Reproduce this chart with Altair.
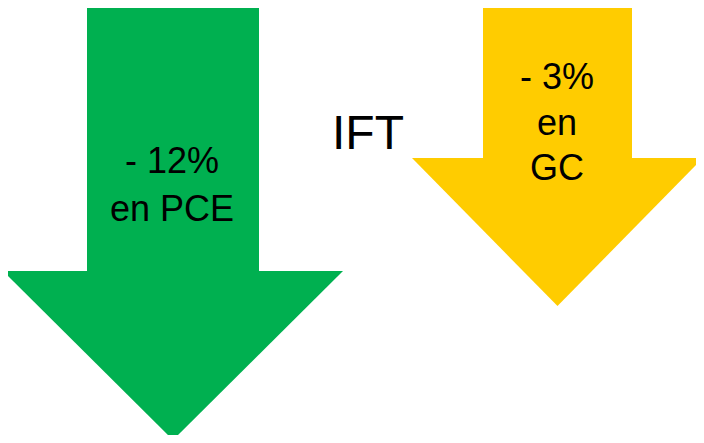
import altair as alt
import pandas as pd

# Arrows (reference pixel units)
arrow_names = ["PCE", "GC"]
arrow_colors = ["#00B050", "#FFCC00"]
shaft_left = [87, 483]
shaft_right = [259, 632]
shaft_top = [2, 2]
shaft_bottom = [271, 158]
head_left = [3, 412]
head_right = [343, 703]
tip_y = [440, 306]

# Text labels
label_text = ["- 12%", "en PCE", "IFT", "- 3%", "en", "GC"]
label_x = [172, 172, 368, 557, 557, 557]
label_y = [173, 221, 149, 89, 135, 180]
label_size = [36, 36, 48, 36, 36, 36]

shafts = pd.DataFrame({
    "arrow": arrow_names, "x1": shaft_left, "x2": shaft_right,
    "y1": shaft_top, "y2": shaft_bottom,
})

head_rows = []
for i, name in enumerate(arrow_names):
    cx = (head_left[i] + head_right[i]) / 2
    for x, yb in [(head_left[i], shaft_bottom[i]), (cx, tip_y[i]), (head_right[i], shaft_bottom[i])]:
        head_rows.append({"arrow": name, "x": x, "yt": shaft_bottom[i], "yb": yb})
heads = pd.DataFrame(head_rows)

labels = pd.DataFrame({"t": label_text, "x": label_x, "y": label_y, "s": label_size})

W, H = 688, 427
xs = alt.Scale(domain=[8, 8 + W], nice=False, zero=False)
ys = alt.Scale(domain=[8, 8 + H], nice=False, zero=False, reverse=True)
cs = alt.Scale(domain=arrow_names, range=arrow_colors)

shaft = alt.Chart(shafts).mark_rect().encode(
    x=alt.X("x1:Q", scale=xs, axis=None),
    x2="x2:Q",
    y=alt.Y("y1:Q", scale=ys, axis=None),
    y2="y2:Q",
    color=alt.Color("arrow:N", scale=cs, legend=None),
)

head = alt.Chart(heads).mark_area(interpolate="linear").encode(
    x=alt.X("x:Q", scale=xs, axis=None),
    y=alt.Y("yt:Q", scale=ys, axis=None),
    y2="yb:Q",
    color=alt.Color("arrow:N", scale=cs, legend=None),
    detail="arrow:N",
)

text = alt.Chart(labels).mark_text(
    font="Liberation Sans", align="center", baseline="alphabetic", color="black"
).encode(
    x=alt.X("x:Q", scale=xs, axis=None),
    y=alt.Y("y:Q", scale=ys, axis=None),
    text="t:N",
    size=alt.Size("s:Q", scale=None, legend=None),
)

chart = alt.layer(shaft, head, text).properties(
    width=W, height=H, padding=0,
    autosize=alt.AutoSizeParams(type="none"),
).configure_view(stroke=None)

chart.save("out.html", embed_options={"renderer": "svg", "actions": False})
